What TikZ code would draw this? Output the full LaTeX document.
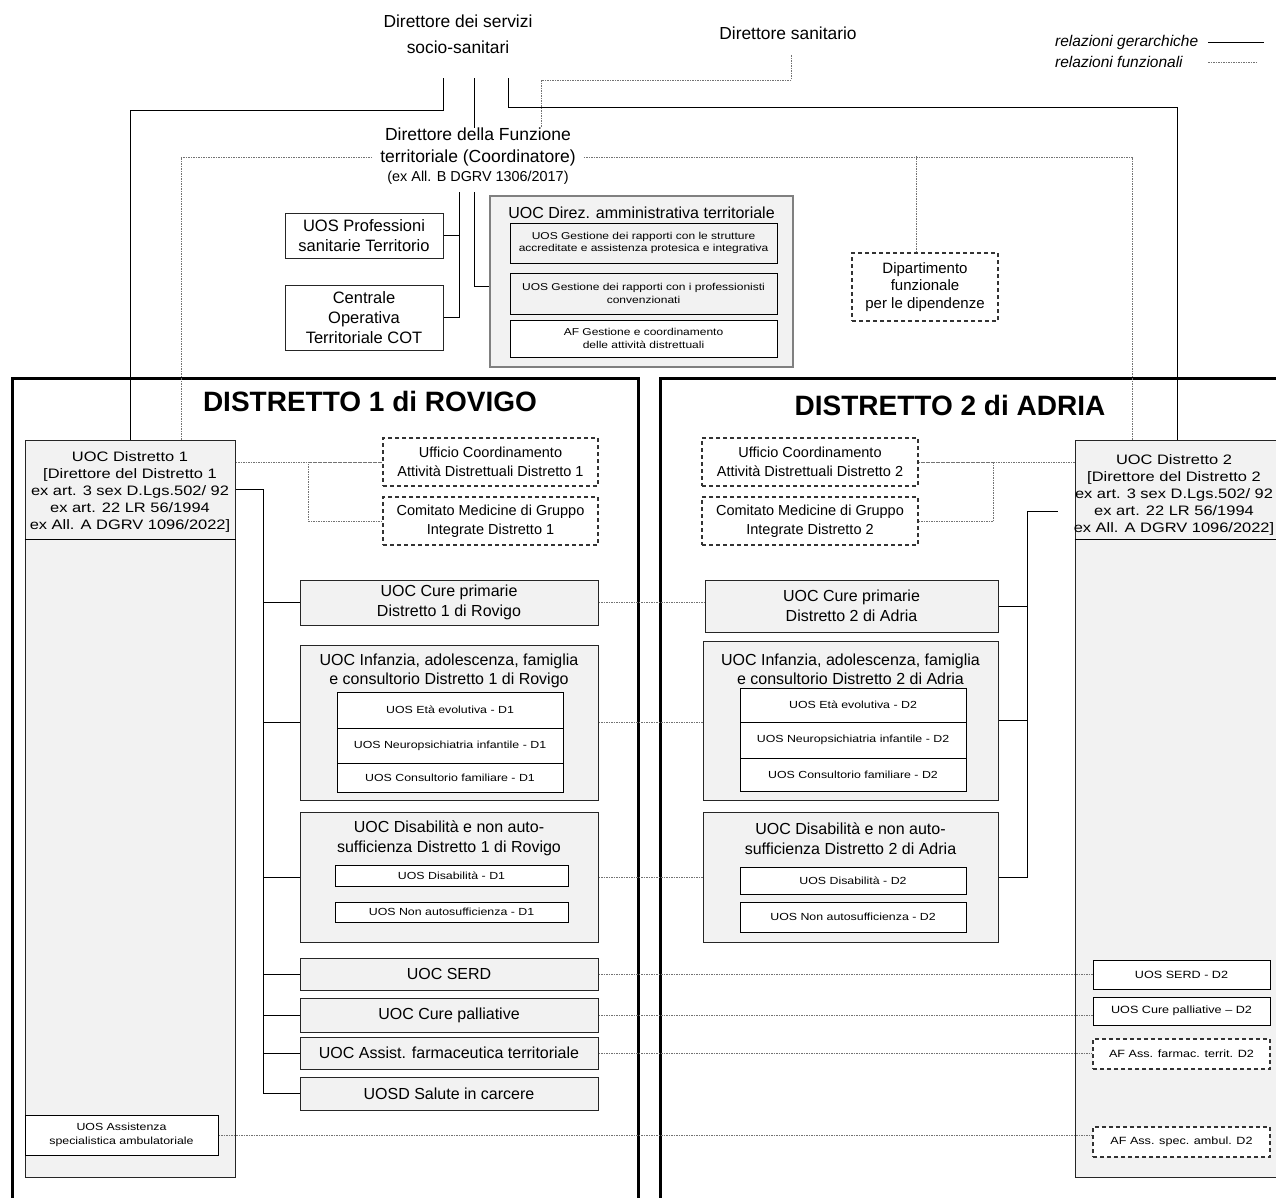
\documentclass[tikz,border=0pt]{standalone}
\usepackage{fontspec}
\setmainfont{Liberation Sans}
\newfontfamily\widefont[FakeStretch = 1.2]{Liberation Sans}

\begin{document}
\begin{tikzpicture}[x = 1pt, y = -1pt,
  gerline/.style = {line width = 1pt},
  treeline/.style = {line width = 1.6pt},
  funline/.style = {line width = 0.7pt, black!55, dash pattern = on 1.5pt off 1pt},
  distbox/.style = {draw, line width = 3pt, inner sep = 0pt},
  uocbox/.style = {draw = black!85, line width = 1pt, fill = gray!10, align = center, inner sep = 0pt, font = \fontsize{16}{19.5}\selectfont},
  uosbox/.style = {draw, line width = 1pt, fill = white, align = center, inner sep = 0pt, font = \widefont\fontsize{10.3}{12.5}\selectfont},
  dashbox/.style = {draw = black!80, line width = 1.2pt, dash pattern = on 4pt off 3pt, fill = white, align = center, inner sep = 0pt},
  plain/.style = {align = center, inner sep = 0pt}]

\fill[white] (0,0) rectangle (1276,1197);
\useasboundingbox (0,0) rectangle (1276,1197);

% direzione
\node[plain, font = \fontsize{17.4}{26}\selectfont, minimum height = 88] (dss) at (458,34) {Direttore dei servizi\\socio-sanitari};
\node[plain, font = \fontsize{17.4}{26}\selectfont, minimum height = 44] (dsan) at (788,33) {Direttore sanitario};
\node[plain, font = \itshape\fontsize{15.5}{20}\selectfont, anchor = west] (lgg) at (1055,42) {relazioni gerarchiche};
\node[plain, font = \itshape\fontsize{15.5}{20}\selectfont, anchor = west] (lgf) at (1055,62) {relazioni funzionali};
\coordinate (lgx) at ([xshift = 10pt]lgg.east);
\draw[gerline] (lgx) -- ++(56,0);
\draw[funline] (lgx |- lgf.east) -- ++(50,0);

\node[plain, inner xsep = 8pt, font = \fontsize{17.5}{22}\selectfont] (dft) at (478,147) {Direttore della Funzione\\territoriale (Coordinatore)};
\node[plain, font = \fontsize{14.4}{18}\selectfont, minimum height = 28] (dftex) at (478,178) {(ex All. B DGRV 1306/2017)};

\node[uocbox, fill = white, font = \fontsize{16.5}{20}\selectfont, minimum width = 158, minimum height = 45] (uosp) at (364,235.5) {UOS Professioni\\sanitarie Territorio};
\node[uocbox, fill = white, font = \fontsize{16.5}{20}\selectfont, minimum width = 158, minimum height = 65] (cot) at (364,317.5) {Centrale\\Operativa\\Territoriale COT};

\node[uocbox, draw = black!50, line width = 1.3pt, minimum width = 303, minimum height = 171] (direz) at (641.5,281.5) {};
\node[plain, font = \fontsize{16}{19}\selectfont] (direzt) at (641.5,213) {UOC Direz. amministrativa territoriale};
\node[uosbox, fill = gray!10, font = \widefont\fontsize{10}{12.5}\selectfont, minimum width = 267, minimum height = 40] (gstr) at (643.5,243) {UOS Gestione dei rapporti con le strutture\\accreditate e assistenza protesica e integrativa};
\node[uosbox, fill = gray!10, font = \widefont\fontsize{10}{12.5}\selectfont, minimum width = 267, minimum height = 41] (gprof) at (643.5,293.5) {UOS Gestione dei rapporti con i professionisti\\convenzionati};
\node[uosbox, font = \widefont\fontsize{10}{12.5}\selectfont, minimum width = 267, minimum height = 37] (gcoord) at (643.5,338.5) {AF Gestione e coordinamento\\delle attività distrettuali};

\node[dashbox, font = \fontsize{15}{17.5}\selectfont, minimum width = 146, minimum height = 68] (dip) at (925,287) {Dipartimento\\funzionale\\per le dipendenze};

% distretti
\node[distbox, minimum width = 626, minimum height = 840] (dist1) at (325,798) {};
\node[distbox, minimum width = 630, minimum height = 840] (dist2) at (975,798) {};
\node[plain, font = \bfseries\fontsize{28}{32}\selectfont] (dist1t) at (370,401) {DISTRETTO 1 di ROVIGO};
\node[plain, font = \bfseries\fontsize{28}{32}\selectfont] (dist2t) at (950,405) {DISTRETTO 2 di ADRIA};

\node[uocbox, minimum width = 210, minimum height = 737] (ud1) at (130,808.5) {};
\draw[gerline] ([yshift = -100pt]ud1.north west) -- ([yshift = -100pt]ud1.north east);
\node[plain, font = \widefont\fontsize{13.7}{17}\selectfont] (ud1t) at (130,492) {UOC Distretto 1\\{}[Direttore del Distretto 1\\ex art. 3 sex D.Lgs.502/ 92\\ex art. 22 LR 56/1994\\ex All. A DGRV 1096/2022]};
\node[uosbox, font = \widefont\fontsize{10.3}{14}\selectfont, minimum width = 193, minimum height = 40] (ass1) at (121.5,1135) {UOS Assistenza\\specialistica ambulatoriale};

\node[uocbox, minimum width = 205, minimum height = 737] (ud2) at (1177.5,808.5) {};
\draw[gerline] ([yshift = -100pt]ud2.north west) -- ([yshift = -100pt]ud2.north east);
\node[plain, font = \widefont\fontsize{13.7}{17}\selectfont] (ud2t) at (1174,495) {UOC Distretto 2\\{}[Direttore del Distretto 2\\ex art. 3 sex D.Lgs.502/ 92\\ex art. 22 LR 56/1994\\ex All. A DGRV 1096/2022]};

\node[dashbox, font = \fontsize{14.5}{19}\selectfont, minimum width = 215, minimum height = 48] (uc1) at (490.5,462) {Ufficio Coordinamento\\Attività Distrettuali Distretto 1};
\node[dashbox, font = \fontsize{14.5}{19}\selectfont, minimum width = 215, minimum height = 48] (cm1) at (490.5,521) {Comitato Medicine di Gruppo\\Integrate Distretto 1};
\node[dashbox, font = \fontsize{14.5}{19}\selectfont, minimum width = 216, minimum height = 48] (uc2) at (810,462) {Ufficio Coordinamento\\Attività Distrettuali Distretto 2};
\node[dashbox, font = \fontsize{14.5}{19}\selectfont, minimum width = 216, minimum height = 48] (cm2) at (810,521) {Comitato Medicine di Gruppo\\Integrate Distretto 2};

% distretto 1
\node[uocbox, minimum width = 298, minimum height = 45] (cp1) at (449,602.5) {UOC Cure primarie\\Distretto 1 di Rovigo};
\node[uocbox, minimum width = 298, minimum height = 155] (inf1) at (449,722.5) {};
\node[plain, font = \fontsize{16}{19.5}\selectfont] (inf1t) at (449,671) {UOC Infanzia, adolescenza, famiglia\\e consultorio Distretto 1 di Rovigo};
\node[uosbox, minimum width = 226, minimum height = 36] (eta1) at (450,710) {UOS Età evolutiva - D1};
\node[uosbox, minimum width = 226, minimum height = 35] (neu1) at (450,745.5) {UOS Neuropsichiatria infantile - D1};
\node[uosbox, minimum width = 226, minimum height = 29] (cons1) at (450,777.5) {UOS Consultorio familiare - D1};
\node[uocbox, minimum width = 298, minimum height = 130] (dis1) at (449,877) {};
\node[plain, font = \fontsize{16}{19.5}\selectfont] (dis1t) at (449,838.5) {UOC Disabilità e non auto-\\sufficienza Distretto 1 di Rovigo};
\node[uosbox, minimum width = 233, minimum height = 21] (udis1) at (451.5,875.5) {UOS Disabilità - D1};
\node[uosbox, minimum width = 233, minimum height = 20] (naut1) at (451.5,912) {UOS Non autosufficienza - D1};
\node[uocbox, minimum width = 298, minimum height = 32] (serd1) at (449,974) {UOC SERD};
\node[uocbox, minimum width = 298, minimum height = 34] (pal1) at (449,1015) {UOC Cure palliative};
\node[uocbox, minimum width = 298, minimum height = 32] (far1) at (449,1053) {UOC Assist. farmaceutica territoriale};
\node[uocbox, minimum width = 298, minimum height = 33] (sal1) at (449,1093.5) {UOSD Salute in carcere};

% distretto 2
\node[uocbox, minimum width = 293, minimum height = 52] (cp2) at (851.5,606) {UOC Cure primarie\\Distretto 2 di Adria};
\node[uocbox, minimum width = 295, minimum height = 159] (inf2) at (850.5,720.5) {};
\node[plain, font = \fontsize{16}{19.5}\selectfont] (inf2t) at (850.5,669.5) {UOC Infanzia, adolescenza, famiglia\\e consultorio Distretto 2 di Adria};
\node[uosbox, minimum width = 226, minimum height = 34] (eta2) at (853,705) {UOS Età evolutiva - D2};
\node[uosbox, minimum width = 226, minimum height = 36] (neu2) at (853,740) {UOS Neuropsichiatria infantile - D2};
\node[uosbox, minimum width = 226, minimum height = 33] (cons2) at (853,774.5) {UOS Consultorio familiare - D2};
\node[uocbox, minimum width = 295, minimum height = 130] (dis2) at (850.5,877) {};
\node[plain, font = \fontsize{16}{19.5}\selectfont] (dis2t) at (850.5,838.5) {UOC Disabilità e non auto-\\sufficienza Distretto 2 di Adria};
\node[uosbox, minimum width = 226, minimum height = 27] (udis2) at (853,880.5) {UOS Disabilità - D2};
\node[uosbox, minimum width = 226, minimum height = 30] (naut2) at (853,917) {UOS Non autosufficienza - D2};

\node[uosbox, font = \widefont\fontsize{10.5}{12.5}\selectfont, minimum width = 177, minimum height = 29] (sd2) at (1181.5,974.5) {UOS SERD - D2};
\node[uosbox, font = \widefont\fontsize{10.5}{12.5}\selectfont, minimum width = 177, minimum height = 28] (pd2) at (1181.5,1011) {UOS Cure palliative – D2};
\node[dashbox, font = \widefont\fontsize{10.5}{12.5}\selectfont, minimum width = 177, minimum height = 30] (fd2) at (1181.5,1054) {AF Ass. farmac. territ. D2};
\node[dashbox, font = \widefont\fontsize{10.5}{12.5}\selectfont, minimum width = 177, minimum height = 30] (ad2) at (1181.5,1142) {AF Ass. spec. ambul. D2};

% relazioni gerarchiche
\coordinate (sv1) at ([xshift = -15pt]dss.south);
\coordinate (sv2) at ([xshift = 16pt]dss.south);
\coordinate (sv3) at ([xshift = 50pt]dss.south);
\draw[gerline] (sv1) -- ++(0,32) -| (ud1.north);
\draw[gerline] (sv2) -- (sv2 |- dft.north);
\draw[gerline] (sv3) -- ++(0,29) -| (ud2.north);
\draw[gerline] ([xshift = -19pt]dftex.south) |- (cot.east);
\draw[gerline] (uosp.east) -- ++(16,0);
\draw[gerline] ([xshift = -4pt]dftex.south) |- ([yshift = -5pt]direz.west);

\draw[treeline] ([yshift = -50pt]ud1.north east) -- ++(28,0) coordinate (t1) -- (t1 |- sal1.west);
\foreach \b in {cp1, inf1, dis1, serd1, pal1, far1, sal1}
  \draw[gerline] (t1 |- \b.west) -- (\b.west);
\draw[treeline] ([xshift = -17pt, yshift = -72pt]ud2.north west) -- ++(-30,0) coordinate (t2) -- (t2 |- dis2.east);
\foreach \b in {cp2, inf2, dis2}
  \draw[gerline] (t2 |- \b.east) -- (\b.east);

% relazioni funzionali
\draw[funline] ([xshift = 3pt]dsan.south) -- ++(0,25) -| ([xshift = 63pt]dft.north);
\draw[funline] ([yshift = -10pt]dft.west) -| ([xshift = 51pt]ud1.north);
\draw[funline] ([yshift = -10pt]dft.east) -| ([xshift = -45pt]ud2.north);
\draw[funline] ([xshift = -9pt]dip.north) -- ++(0,-96);
\draw[funline] (uc1.west -| ud1.east) -- (uc1.west);
\draw[funline] (cm1.west) -- ++(-74,0) |- (uc1.west);
\draw[funline] (uc2.east -| ud2.west) -- (uc2.east);
\draw[funline] (cm2.east) -- ++(75,0) |- (uc2.east);
\foreach \a/\b in {cp1/cp2, inf1/inf2, dis1/dis2, serd1/sd2, pal1/pd2, far1/fd2, ass1/ad2}
  \draw[funline] (\a.east) -- (\a.east -| \b.west);
\end{tikzpicture}
\end{document}
